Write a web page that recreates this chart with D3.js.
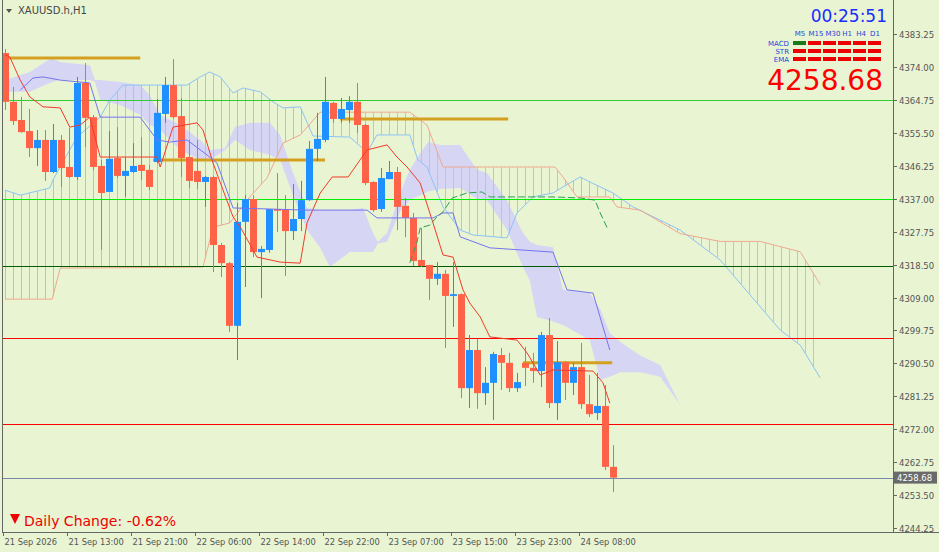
<!DOCTYPE html>
<html>
<head>
<meta charset="utf-8">
<script src="https://cdn.jsdelivr.net/npm/d3@7"></script>
<style>
  body { margin: 0; background: #e9f4d2; }
  svg { display: block; font-family: "DejaVu Sans", sans-serif; }
</style>
</head>
<body>
<div id="chart"></div>
<script>
// CANDLES (H1) [open, high, low, close]
const candles = [
  [4377.9,4379.0,4361.9,4364.2],[4364.2,4368.4,4357.7,4358.8],[4359.1,4365.6,4355.5,4355.7],[4356.0,4362.2,4348.7,4351.2],
  [4351.2,4356.3,4346.2,4353.5],[4353.5,4356.3,4342.0,4344.5],[4344.5,4358.0,4344.2,4353.5],[4353.5,4354.9,4340.3,4345.6],
  [4345.9,4356.9,4342.8,4343.1],[4343.1,4371.2,4342.3,4369.5],[4369.5,4375.1,4351.5,4359.7],[4359.9,4360.5,4345.0,4345.9],
  [4346.2,4347.9,4322.6,4338.6],[4338.9,4356.0,4338.9,4348.2],[4348.4,4357.1,4342.8,4343.4],[4343.4,4348.7,4337.5,4344.8],
  [4344.5,4352.6,4344.2,4346.2],[4346.5,4354.3,4342.3,4344.8],[4345.1,4346.5,4339.4,4340.3],[4347.3,4365.0,4347.0,4361.1],
  [4360.8,4371.2,4358.3,4368.9],[4368.9,4376.2,4359.5,4359.9],[4360.2,4365.3,4343.1,4348.4],[4348.7,4353.5,4340.0,4342.0],
  [4344.8,4353.5,4339.7,4341.7],[4341.7,4343.4,4334.7,4343.1],[4343.1,4343.4,4316.4,4324.0],[4324.0,4324.6,4315.0,4318.9],
  [4318.9,4319.2,4299.6,4301.3],[4301.3,4335.8,4291.7,4330.5],[4330.5,4338.0,4312.2,4336.9],[4336.9,4338.0,4320.6,4322.0],
  [4322.0,4323.7,4309.1,4322.9],[4322.6,4334.1,4321.8,4334.1],[4334.1,4344.2,4327.7,4333.6],[4334.1,4338.0,4315.3,4327.9],
  [4327.9,4341.1,4325.4,4331.3],[4331.3,4342.0,4327.9,4336.6],[4336.6,4353.2,4336.4,4351.0],[4351.0,4361.1,4347.6,4353.8],
  [4353.5,4371.2,4352.9,4364.2],[4363.9,4364.2,4358.3,4359.4],[4359.4,4365.3,4358.3,4362.2],[4361.9,4365.8,4358.3,4364.2],
  [4364.2,4369.5,4355.5,4357.7],[4357.7,4358.0,4340.8,4341.4],[4341.7,4341.9,4333.3,4333.8],[4334.1,4345.6,4333.3,4342.8],
  [4342.5,4347.6,4342.5,4344.5],[4344.5,4345.9,4328.2,4334.7],[4335.0,4337.2,4326.2,4331.6],[4331.6,4333.0,4318.1,4319.5],
  [4319.8,4328.8,4317.8,4318.1],[4318.4,4318.4,4308.6,4314.5],[4314.5,4319.2,4312.8,4315.9],[4315.9,4317.0,4295.1,4309.7],
  [4309.7,4319.2,4301.0,4310.2],[4310.2,4310.4,4281.0,4283.8],[4283.8,4298.7,4278.2,4294.5],[4294.5,4297.6,4278.0,4282.4],
  [4282.4,4289.7,4279.1,4285.3],[4285.3,4294.0,4274.9,4293.4],[4293.1,4295.1,4283.3,4290.9],[4290.9,4293.7,4282.7,4283.8],
  [4283.8,4288.1,4282.7,4285.5],[4290.9,4295.4,4284.4,4289.5],[4289.5,4293.7,4285.3,4288.6],[4288.6,4299.6,4284.1,4298.7],
  [4298.7,4303.5,4278.2,4279.6],[4279.6,4297.0,4274.9,4291.1],[4291.1,4291.4,4280.5,4285.3],[4285.3,4290.9,4281.9,4289.7],
  [4289.7,4296.5,4278.0,4279.3],[4279.3,4287.5,4275.7,4276.5],[4276.8,4288.1,4274.9,4278.8],[4278.8,4284.7,4260.8,4261.7],
  [4261.7,4267.8,4254.6,4258.68]
];

// INDICATOR LINES [bar index, price]
const tenkan = [[0,4377.4],[0.6,4376.8],[1.9,4370.3],[3.1,4365.6],[4.75,4362.8],[6.9,4362.5],[8.1,4357.1],[9.4,4357.7],
  [10.6,4359.9],[11.9,4348.7],[19,4348.7],[19.4,4345.9],[21,4357.1],[24,4358.3],[24.75,4356.3],[26,4347.0],[28.5,4331.9],
  [29.4,4329.1],[31.5,4320.6],[34.4,4319.2],[36.9,4318.9],[37.75,4330.2],[39.4,4338.6],[40.9,4343.1],[42.9,4343.1],
  [45.25,4350.7],[47.75,4352.1],[49,4348.7],[50.25,4345.9],[51.9,4341.4],[53.5,4330.2],[54.75,4321.2],[56,4320.6],
  [57.25,4311.4],[58.1,4307.7],[59.4,4303.8],[60.6,4298.2],[64,4297.3],[65.25,4293.7],[66.9,4287.5],[68.5,4288.9],
  [73.5,4288.6],[74.75,4285.3],[75.6,4279.6]];
const kijun = [[1.9,4367.5],[3.5,4370.9],[4.75,4371.2],[6.9,4370.3],[10.6,4369.5],[11.9,4359.9],[16.9,4359.9],
  [19,4353.5],[20.6,4352.9],[22.75,4353.5],[25.25,4349.3],[26.5,4347.0],[28.5,4334.4],[37.75,4333.8],[45.25,4333.8],
  [46.5,4331.6],[53.5,4331.6],[54.75,4333.0],[56,4333.0],[56.9,4326.3],[60.6,4323.2],[68.5,4322.0],[70.25,4311.4],
  [73.5,4310.5],[75.6,4294.5]];
const chikou = [[50.6,4319.0],[51.5,4324.8],[51.9,4328.8],[53.1,4329.6],[54,4331.9],[54.75,4333.3],[55.9,4337.2],
  [57.75,4338.6],[59.6,4338.9],[60.6,4337.5],[68.5,4337.5],[71.9,4337.2],[73.75,4336.6],[74.4,4333.0],[75.4,4328.2]];
const spanA = [[0,4339.4],[1.9,4338.0],[5.6,4340.0],[6,4342.3],[9,4354.3],[11.9,4359.9],[13.1,4364.7],[14.75,4368.9],
  [22.75,4368.9],[24.4,4371.2],[25.6,4372.6],[26.9,4371.2],[28.5,4366.7],[29.75,4368.1],[31.9,4367.0],[33.5,4364.2],
  [34.75,4362.5],[36.9,4362.8],[38.5,4354.6],[43.1,4354.3],[45.25,4350.1],[46.5,4354.9],[50.6,4354.9],[51.6,4347.9],
  [52.75,4345.9],[54.75,4334.7],[56.9,4328.2],[58.5,4326.8],[62.75,4326.0],[64,4333.0],[66,4337.5],[68.5,4338.6],
  [69.75,4340.3],[71.9,4343.1],[73.1,4341.7],[76,4338.6],[78.5,4334.7],[84.4,4328.2],[89.4,4319.8],[96.9,4300.1],
  [99.4,4295.9],[101.9,4286.7]];
const spanB = [[0,4308.8],[5.9,4308.8],[6.9,4317.5],[24.75,4317.8],[26,4329.0],[28.1,4330.2],[30.6,4337.5],
  [32.75,4342.8],[34.75,4352.6],[36.9,4354.9],[39.4,4361.3],[50.6,4361.3],[52.75,4357.7],[54.75,4345.9],[68.75,4345.9],
  [69.75,4343.1],[71.5,4337.5],[75.6,4337.5],[76.5,4334.7],[79.4,4333.8],[84.4,4327.2],[89.4,4325.0],[94.4,4325.0],
  [99.4,4322.1],[101.9,4312.9]];

// LAVENDER BAND [bar index, top, bottom]
const bandOne = [[0,4370.3,4367.0],[3.1,4372.6,4367.0],[5,4375.4,4368.9],[5.9,4376.5,4369.8],[6.9,4375.4,4370.3],
  [10.6,4374.5,4370.3],[11.25,4370.3,4369.8],[11.9,4370.3,4364.7],[14.4,4369.8,4363.3],[16.9,4368.9,4360.5],
  [18.1,4366.1,4357.7],[19.4,4360.5,4356.3],[21.9,4357.7,4350.7],[24.4,4353.5,4347.9],[25.6,4350.7,4347.9],
  [27.5,4351.2,4350.7],[28.75,4357.1,4353.5],[30.6,4358.3,4350.7],[33.1,4358.3,4349.3],[34.4,4354.9,4347.9],
  [36,4344.2,4338.0],[37.75,4334.4,4328.2],[39.4,4333.8,4323.2],[40.6,4333.8,4317.8],[43.1,4333.8,4322.0],
  [44.75,4334.4,4322.0],[46,4327.4,4322.0],[46.6,4324.9,4324.4]];
const bandTwo = [[46.6,4324.9,4324.4],[47.75,4327.4,4324.9],[49.4,4338.6,4333.5],[50.6,4345.1,4336.6],
  [51.9,4349.8,4338.0],[52.9,4352.9,4339.0],[54.4,4352.1,4339.7],[56.9,4352.1,4340.0],[59,4345.1,4337.0],
  [60.25,4344.2,4336.6],[62.75,4336.6,4328.2],[64.75,4327.4,4317.8],[65.6,4324.9,4314.0],[66.5,4324.0,4303.8],
  [68.5,4323.4,4302.5],[69.75,4311.4,4301.5],[73.1,4310.5,4297.3],[74.4,4306.0,4286.1],[75.6,4299.3,4287.0],
  [76.9,4296.8,4288.3],[79.4,4293.0,4288.3],[81.9,4290.3,4287.0],[84.4,4279.1,4279.1]];

// LEVELS
const hLevels = [[4364.75,"#33cc33"],[4337.0,"#00ee00"],[4318.0,"#005a00"],[4298.0,"#ff0000"],[4273.8,"#ff0000"],[4258.68,"#7888a8"]];
const orangeLevels = [[0,16.9,4376.5],[18.5,40,4347.9],[41.9,62.9,4359.4],[64.75,75.9,4290.9]];
const priceTicks = [4383.25,4374.00,4364.75,4355.50,4346.25,4337.00,4327.75,4318.50,4309.00,4299.75,4290.50,4281.25,4272.00,4262.75,4253.50,4244.25];
const priceTickPos = [4383.25,4374.00,4364.75,4355.50,4346.25,4337.00,4327.75,4318.50,4309.25,4300.00,4290.75,4281.50,4272.25,4263.00,4253.75,4244.50];
const timeLabels = ["21 Sep 2026","21 Sep 13:00","21 Sep 21:00","22 Sep 06:00","22 Sep 14:00","22 Sep 22:00","23 Sep 07:00","23 Sep 15:00","23 Sep 23:00","24 Sep 08:00"];
const periods = ["M5","M15","M30","H1","H4","D1"];
const periodX = [800, 816, 833, 847, 861, 875];
const signalRows = ["MACD","STR","EMA"];

const W = 939, H = 552, right = 893, bottom = 532;
const svg = d3.select("#chart").append("svg").attr("width", W).attr("height", H);
svg.append("rect").attr("width", W).attr("height", H).attr("fill", "#e9f4d2");

const x = d3.scaleLinear().domain([0, 110]).range([5, 885]);
const y = d3.scaleLinear().domain([4244.25, 4383.25]).range([529, 34]);

const plot = svg.append("g");

// LAVENDER CLOUD
const area = d3.area().x(d => x(d[0])).y0(d => y(d[2])).y1(d => y(d[1]));
[bandOne, bandTwo].forEach(b => plot.append("path").attr("d", area(b)).attr("fill", "#d6d6f4"));

// ICHIMOKU HATCH
function at(pts, i) {
  for (let k = 0; k < pts.length - 1; k++) {
    if (i >= pts[k][0] && i <= pts[k + 1][0]) {
      const t = (i - pts[k][0]) / (pts[k + 1][0] - pts[k][0]);
      return pts[k][1] + t * (pts[k + 1][1] - pts[k][1]);
    }
  }
  return null;
}
d3.range(0, 102).forEach(i => {
  const a = at(spanA, i), b = at(spanB, i);
  if (a == null || b == null) return;
  plot.append("line").attr("x1", Math.round(x(i)) + 0.5).attr("x2", Math.round(x(i)) + 0.5)
    .attr("y1", y(a)).attr("y2", y(b))
    .attr("stroke", a > b ? "#9cc8f0" : "#eeb4a0").attr("stroke-width", 1);
});

const line = d3.line().x(d => x(d[0])).y(d => y(d[1]));
plot.append("path").attr("d", line(spanA)).attr("fill", "none").attr("stroke", "#8cc4f4");
plot.append("path").attr("d", line(spanB)).attr("fill", "none").attr("stroke", "#f0a890");

// HORIZONTAL LEVELS
hLevels.forEach(([p, c]) => plot.append("line").attr("x1", 2).attr("x2", right)
  .attr("y1", Math.round(y(p)) + 0.5).attr("y2", Math.round(y(p)) + 0.5).attr("stroke", c));

orangeLevels.forEach(([a, b, p]) => plot.append("line").attr("x1", x(a)).attr("x2", x(b))
  .attr("y1", y(p)).attr("y2", y(p)).attr("stroke", "#d4a020").attr("stroke-width", 3));

// CANDLES
const cg = plot.append("g");
candles.forEach((d, i) => {
  const [o, h, l, c] = d;
  const col = c >= o ? "#1e90ff" : "#ff6347";
  const cx = Math.round(x(i)) + 0.5;
  cg.append("line").attr("x1", cx).attr("x2", cx).attr("y1", y(h)).attr("y2", y(l)).attr("stroke", col);
  const top = y(Math.max(o, c)), bot = y(Math.min(o, c));
  cg.append("rect").attr("x", cx - 3.5).attr("y", top).attr("width", 7)
    .attr("height", Math.max(1, bot - top)).attr("fill", col);
});

// TENKAN / KIJUN / CHIKOU
plot.append("path").attr("d", line(tenkan)).attr("fill", "none").attr("stroke", "#f03c28");
plot.append("path").attr("d", line(kijun)).attr("fill", "none").attr("stroke", "#7474f0");
plot.append("path").attr("d", line(chikou)).attr("fill", "none").attr("stroke", "#2aa050").attr("stroke-dasharray", "7,3");

// FRAME & AXES
svg.append("line").attr("x1", 2.5).attr("x2", 2.5).attr("y1", 0).attr("y2", bottom).attr("stroke", "#666");
svg.append("line").attr("x1", right + 0.5).attr("x2", right + 0.5).attr("y1", 0).attr("y2", bottom + 0.5).attr("stroke", "#666");
svg.append("line").attr("x1", 2).attr("x2", W).attr("y1", bottom + 0.5).attr("y2", bottom + 0.5).attr("stroke", "#666");

priceTicks.forEach((t, k) => {
  const yy = Math.round(y(priceTickPos[k])) + 0.5;
  svg.append("line").attr("x1", right).attr("x2", right + 4).attr("y1", yy).attr("y2", yy).attr("stroke", "#666");
  svg.append("text").attr("x", 899).attr("y", yy + 3.5).attr("font-size", 8.5).attr("fill", "#555").text(t.toFixed(2));
});

timeLabels.forEach((t, k) => {
  const xx = Math.round(x(k * 8)) - 1.5;
  svg.append("line").attr("x1", xx).attr("x2", xx).attr("y1", bottom).attr("y2", bottom + 4).attr("stroke", "#666");
  svg.append("text").attr("x", xx + 1).attr("y", 545).attr("font-size", 8.3).attr("fill", "#555").text(t);
});

// CURRENT PRICE TAG
svg.append("rect").attr("x", 894).attr("y", y(4258.68) - 6).attr("width", 43).attr("height", 12).attr("fill", "#6a6a6a");
svg.append("text").attr("x", 897).attr("y", y(4258.68) + 3.5).attr("font-size", 8.5).attr("fill", "#fff").text("4258.68");

// TITLE
svg.append("path").attr("d", "M6,9 L12,9 L9,13 Z").attr("fill", "#555");
svg.append("text").attr("x", 18).attr("y", 14).attr("font-size", 10).attr("fill", "#444").text("XAUUSD.h,H1");

// INFO PANEL
svg.append("text").attr("x", 887).attr("y", 22).attr("text-anchor", "end").attr("font-size", 17)
  .attr("fill", "#1a2cff").text("00:25:51");
periods.forEach((p, k) => svg.append("text").attr("x", periodX[k])
  .attr("y", 36).attr("text-anchor", "middle").attr("font-size", 7).attr("fill", "#2244dd").text(p));
signalRows.forEach((r, j) => {
  svg.append("text").attr("x", 789).attr("y", 46 + j * 8).attr("text-anchor", "end").attr("font-size", 7)
    .attr("fill", "#2244dd").text(r);
  periods.forEach((p, k) => svg.append("rect").attr("x", 793 + k * 15).attr("y", 41 + j * 8)
    .attr("width", 13).attr("height", 4).attr("fill", j === 0 && k === 0 ? "#1a7a1a" : "#ee0000"));
});
svg.append("text").attr("x", 883).attr("y", 90).attr("text-anchor", "end").attr("font-size", 28)
  .attr("fill", "#ff0000").text("4258.68");

// DAILY CHANGE
svg.append("path").attr("d", "M10,514 L20,514 L15,524 Z").attr("fill", "#ee0000");
svg.append("text").attr("x", 24).attr("y", 526).attr("font-size", 14).attr("fill", "#ee0000").text("Daily Change: -0.62%");
</script>
</body>
</html>
